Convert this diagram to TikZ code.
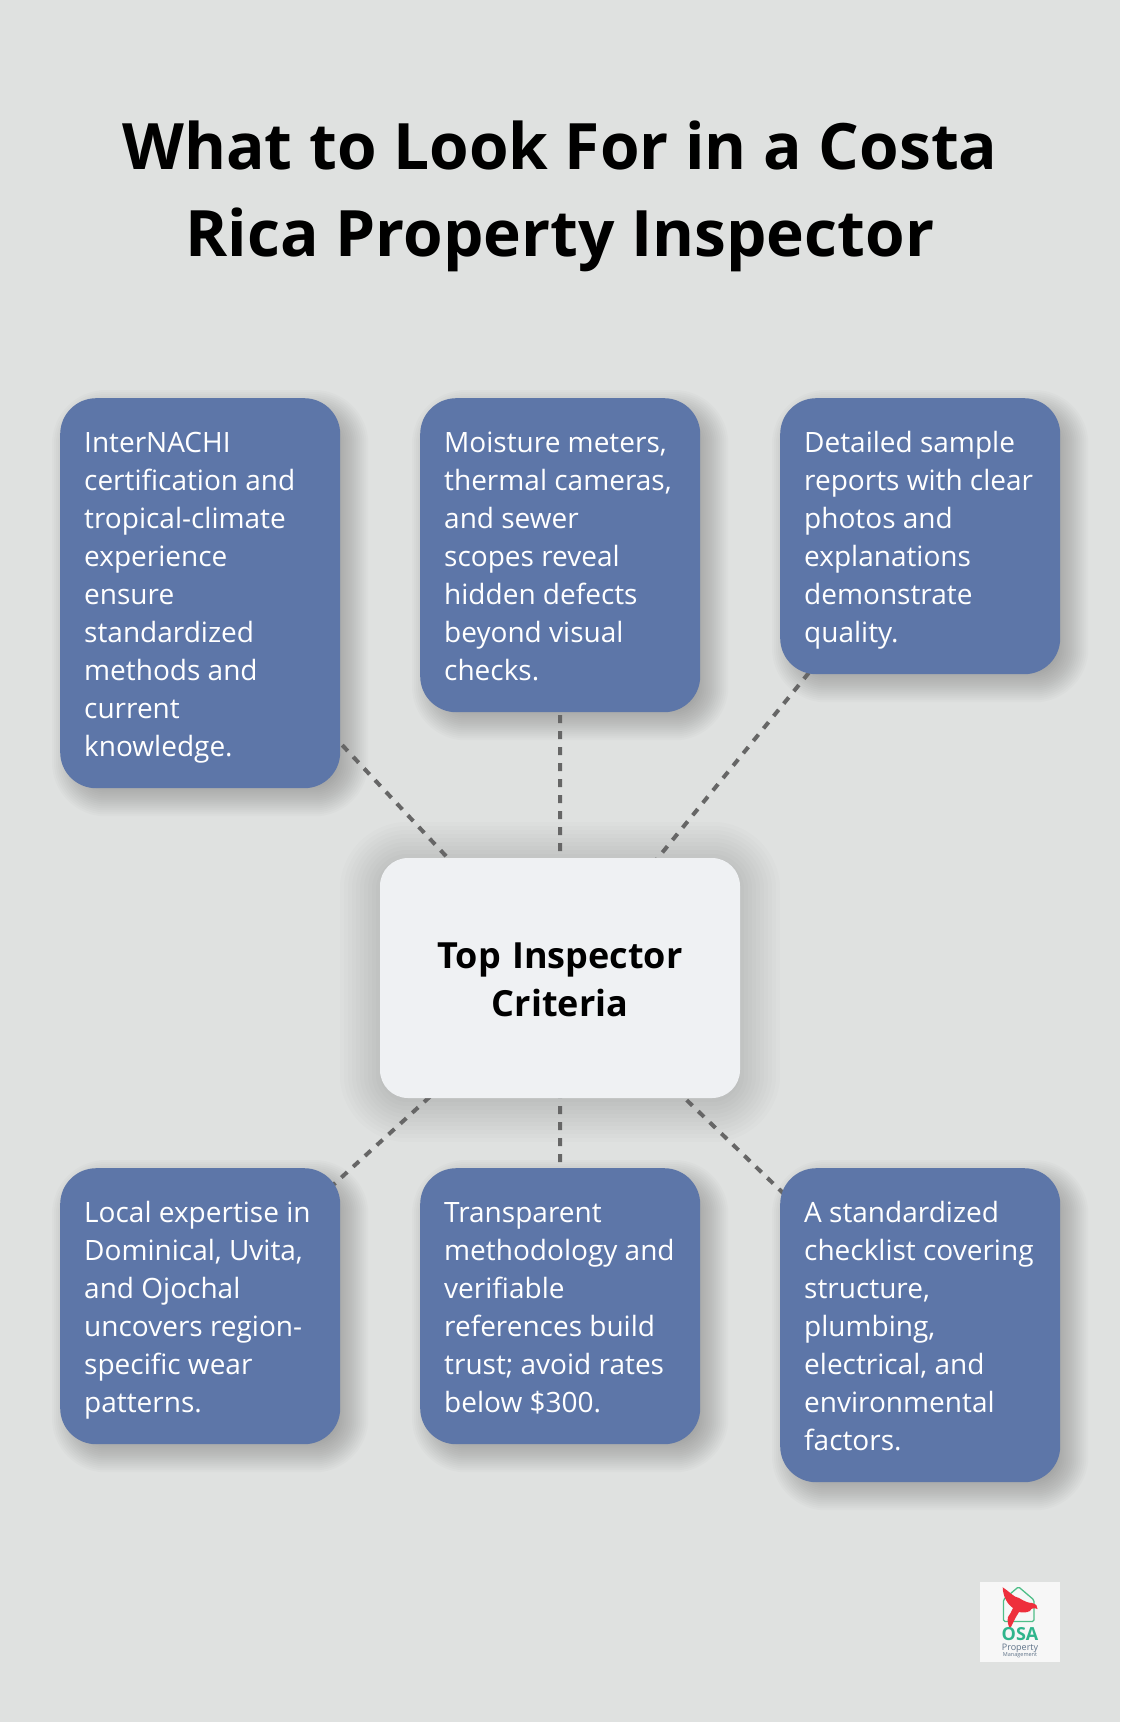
\documentclass[tikz,border=0pt]{standalone}
\usepackage{fontspec}
\setmainfont{Open Sans}
\usetikzlibrary{calc}
\definecolor{pagebg}{HTML}{DFE1E0}
\definecolor{bluebox}{HTML}{5D76A8}
\definecolor{centerbox}{HTML}{EFF1F3}
\definecolor{dashgrey}{HTML}{666666}
\definecolor{logobg}{HTML}{F7F7F7}
\definecolor{logogreen}{HTML}{2FB58C}
\definecolor{logolime}{HTML}{9BD27E}
\definecolor{logored}{HTML}{EE2F3C}
\definecolor{logotext}{HTML}{5E7288}
\pgfdeclarelayer{shadowlayer}
\pgfdeclarelayer{linelayer}
\pgfsetlayers{shadowlayer,linelayer,main}
\newcommand{\bodystrut}{\rule[-8pt]{0pt}{38pt}}
\newcommand{\hubstrut}{\rule[-10pt]{0pt}{48pt}}
\tikzset{
  infobox/.style={fill=bluebox,text=white,rounded corners=36pt,minimum width=280pt,inner sep=0pt,
    text width=232pt,align=left,font=\fontsize{28}{38}\selectfont,anchor=north west,
    execute at begin node={\spaceskip=0.26em\relax\bodystrut},execute at end node=\bodystrut},
  hubbox/.style={fill=centerbox,text=black,rounded corners=28pt,minimum width=360pt,minimum height=240pt,
    inner sep=0pt,text width=320pt,align=center,font=\bfseries\fontsize{36}{48}\selectfont,
    execute at begin node={\spaceskip=0.32em\relax\hubstrut},execute at end node=\hubstrut},
  spoke/.style={draw=dashgrey,line width=4pt,dash pattern=on 8pt off 8pt},
  titletext/.style={font=\bfseries\fontsize{64}{87}\selectfont,text=black,align=center,text width=1040pt,inner sep=0pt,
    execute at begin node={\spaceskip=0.26em\relax}},
}
% soft shadow: name, x offset, y offset, corner radius, blur reach, step, opacity
\newcommand{\softshadow}[7]{%
  \pgfmathtruncatemacro{\second}{#5-#6}%
  \pgfmathtruncatemacro{\last}{-#5}%
  \foreach \s in {#5,\second,...,\last}{%
    \pgfmathsetmacro{\rad}{max(#4+\s,3)}%
    \fill[black,fill opacity=#7,rounded corners=\rad pt]
      ($(#1.north west)+(#2-\s,#3-\s)$) rectangle ($(#1.south east)+(#2+\s,#3+\s)$);
  }%
}
\begin{document}
\begin{tikzpicture}[x=1pt,y=-1pt]
\useasboundingbox (0,0) rectangle (1120,1722);
\begin{pgfonlayer}{shadowlayer}
\fill[pagebg] (0,0) rectangle (1120,1722);
\end{pgfonlayer}

\node[titletext] (title) at (560,196.5) {What to Look For in a Costa\\Rica Property Inspector};

\node[infobox,minimum height=390pt] (b1) at (60,398) {InterNACHI\\certification and\\tropical-climate\\experience\\ensure\\standardized\\methods and\\current\\knowledge.};
\node[infobox,minimum height=314pt] (b2) at (420,398) {Moisture meters,\\thermal cameras,\\and sewer\\scopes reveal\\hidden defects\\beyond visual\\checks.};
\node[infobox,minimum height=276pt] (b3) at (780,398) {Detailed sample\\reports with clear\\photos and\\explanations\\demonstrate\\quality.};
\node[hubbox] (hub) at (560,978) {Top Inspector\\Criteria};
\node[infobox,minimum height=276pt] (b4) at (60,1168) {Local expertise in\\Dominical, Uvita,\\and Ojochal\\uncovers region-\\specific wear\\patterns.};
\node[infobox,minimum height=276pt] (b5) at (420,1168) {Transparent\\methodology and\\verifiable\\references build\\trust; avoid rates\\below \$300.};
\node[infobox,minimum height=314pt] (b6) at (780,1168) {A standardized\\checklist covering\\structure,\\plumbing,\\electrical, and\\environmental\\factors.};

\begin{pgfonlayer}{shadowlayer}
\foreach \n in {b1,b2,b3,b4,b5,b6}{\softshadow{\n}{10}{10}{36}{18}{2}{.016}}
\softshadow{hub}{0}{4}{28}{40}{4}{.012}
\end{pgfonlayer}

\begin{pgfonlayer}{linelayer}
\draw[spoke] (b1.center) -- (hub.center);
\draw[spoke] (b2.center) -- (hub.center);
\draw[spoke] (b3.center) -- (hub.center);
\draw[spoke] (hub.center) -- (b4.center);
\draw[spoke] (hub.center) -- (b5.center);
\draw[spoke] (hub.center) -- (b6.center);
\end{pgfonlayer}

% logo
\fill[logobg] (980,1582) rectangle (1060,1662);
\draw[logogreen!70!logolime,line width=1.3pt,line join=round,rounded corners=1.5pt]
  (1003.5,1599.5) -- (1018.5,1586.8) -- (1034,1600) -- (1034,1621.5) -- (1003.5,1621.5) -- cycle;
\fill[logored] (1002.7,1587.3) .. controls (1009,1591) and (1013,1597) .. (1019,1598)
  .. controls (1024,1601) and (1028,1603) .. (1032,1603)
  .. controls (1036,1604) and (1038,1606) .. (1037.5,1609)
  .. controls (1034,1607.5) and (1031,1608) .. (1030,1611)
  .. controls (1026,1613) and (1022,1612.5) .. (1019,1612)
  .. controls (1015,1618) and (1012,1625) .. (1010,1629)
  .. controls (1008,1625) and (1007,1621) .. (1008,1617)
  .. controls (1010,1614) and (1012,1611) .. (1013,1608)
  .. controls (1007,1604) and (1003,1596) .. (1002.7,1587.3) -- cycle;
\node[inner sep=0pt,text=logogreen,font=\bfseries\fontsize{18}{18}\selectfont] (logoosa) at (1020,1634.5) {OSA};
\node[inner sep=0pt,text=logotext,font=\fontsize{9}{9}\selectfont] (logoprop) at (1020,1648) {Property};
\node[inner sep=0pt,text=logotext,font=\fontsize{5.5}{5.5}\selectfont] (logomgmt) at (1020,1655.5) {Management};
\end{tikzpicture}
\end{document}
